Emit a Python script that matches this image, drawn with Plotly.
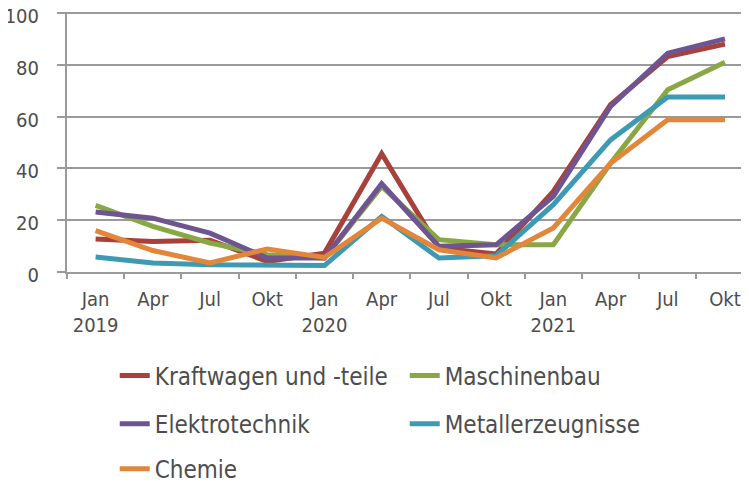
import plotly.graph_objects as go

# quarterly x positions, Jan 2019 .. Okt 2021
quarters = list(range(12))
quarter_labels = [
    "Jan<br>2019", "Apr", "Jul", "Okt",
    "Jan<br>2020", "Apr", "Jul", "Okt",
    "Jan<br>2021", "Apr", "Jul", "Okt",
]

kraftwagen = [12.7, 11.8, 12.3, 4.1, 7.3, 45.7, 9.3, 7.0, 31.1, 64.6, 83.2, 88.0]
maschinenbau = [25.7, 17.6, 11.2, 6.7, 5.4, 33.0, 12.5, 10.5, 10.5, 42.0, 70.4, 81.0]
elektrotechnik = [23.2, 20.8, 15.0, 5.4, 5.4, 34.1, 9.9, 10.5, 29.2, 63.9, 84.5, 90.0]
metall = [5.8, 3.5, 2.8, 2.5, 2.5, 21.5, 5.4, 6.3, 26.0, 51.0, 67.6, 67.6]
chemie = [16.0, 8.3, 3.5, 8.9, 5.6, 20.8, 8.6, 5.4, 17.0, 42.0, 58.8, 58.8]

FONT = "DejaVu Sans Condensed"
TEXT = "#4d4d4d"
GRID = "#9a9a9a"

series = [
    ("Kraftwagen und -teile", kraftwagen, "#a8403b", "legend"),
    ("Maschinenbau", maschinenbau, "#89a845", "legend"),
    ("Elektrotechnik", elektrotechnik, "#6e5490", "legend2"),
    ("Metallerzeugnisse", metall, "#3e9ab2", "legend2"),
    ("Chemie", chemie, "#e2863a", "legend3"),
]

fig = go.Figure()
for name, vals, color, leg in series:
    fig.add_trace(
        go.Scatter(
            name=name,
            x=quarters,
            y=vals,
            mode="lines",
            line=dict(color=color, width=5),
            legend=leg,
        )
    )

legend_common = dict(
    orientation="h",
    xanchor="left",
    yanchor="middle",
    x=0.07,
    font=dict(family=FONT, size=24, color=TEXT),
    entrywidth=245,
    entrywidthmode="pixels",
    bgcolor="rgba(0,0,0,0)",
)

# page body has an 8px margin, so the figure is 8px smaller than the window
fig.update_layout(
    width=741,
    height=475,
    margin=dict(l=59, r=0, t=4, b=211, autoexpand=False),
    paper_bgcolor="white",
    plot_bgcolor="white",
    font=dict(family=FONT, size=20, color=TEXT),
    legend=dict(legend_common, y=-0.40),
    legend2=dict(legend_common, y=-0.585),
    legend3=dict(legend_common, y=-0.758),
    xaxis=dict(
        range=[-0.5, 11.42],
        automargin=False,
        tickmode="array",
        tickvals=quarters,
        ticktext=quarter_labels,
        ticks="",
        ticklabelstandoff=8,
        showgrid=False,
        showline=True,
        linecolor=GRID,
        linewidth=2,
        zeroline=False,
        tickfont=dict(family=FONT, size=20, color=TEXT),
        minor=dict(
            tickmode="array",
            tickvals=[q - 0.5 for q in quarters],
            ticks="outside",
            ticklen=5,
            tickwidth=2,
            tickcolor=GRID,
            showgrid=False,
        ),
    ),
    yaxis=dict(
        range=[0, 100.4],
        automargin=False,
        tickvals=[0, 20, 40, 60, 80, 100],
        ticks="outside",
        ticklen=8,
        tickwidth=2,
        tickcolor=GRID,
        showgrid=True,
        gridcolor=GRID,
        gridwidth=2,
        showline=True,
        linecolor=GRID,
        linewidth=2,
        zeroline=False,
        ticklabelstandoff=14,
        ticklabelshift=3,
        ticklabeloverflow="allow",
        tickfont=dict(family=FONT, size=20, color=TEXT),
    ),
)

fig.write_html("out.html")
